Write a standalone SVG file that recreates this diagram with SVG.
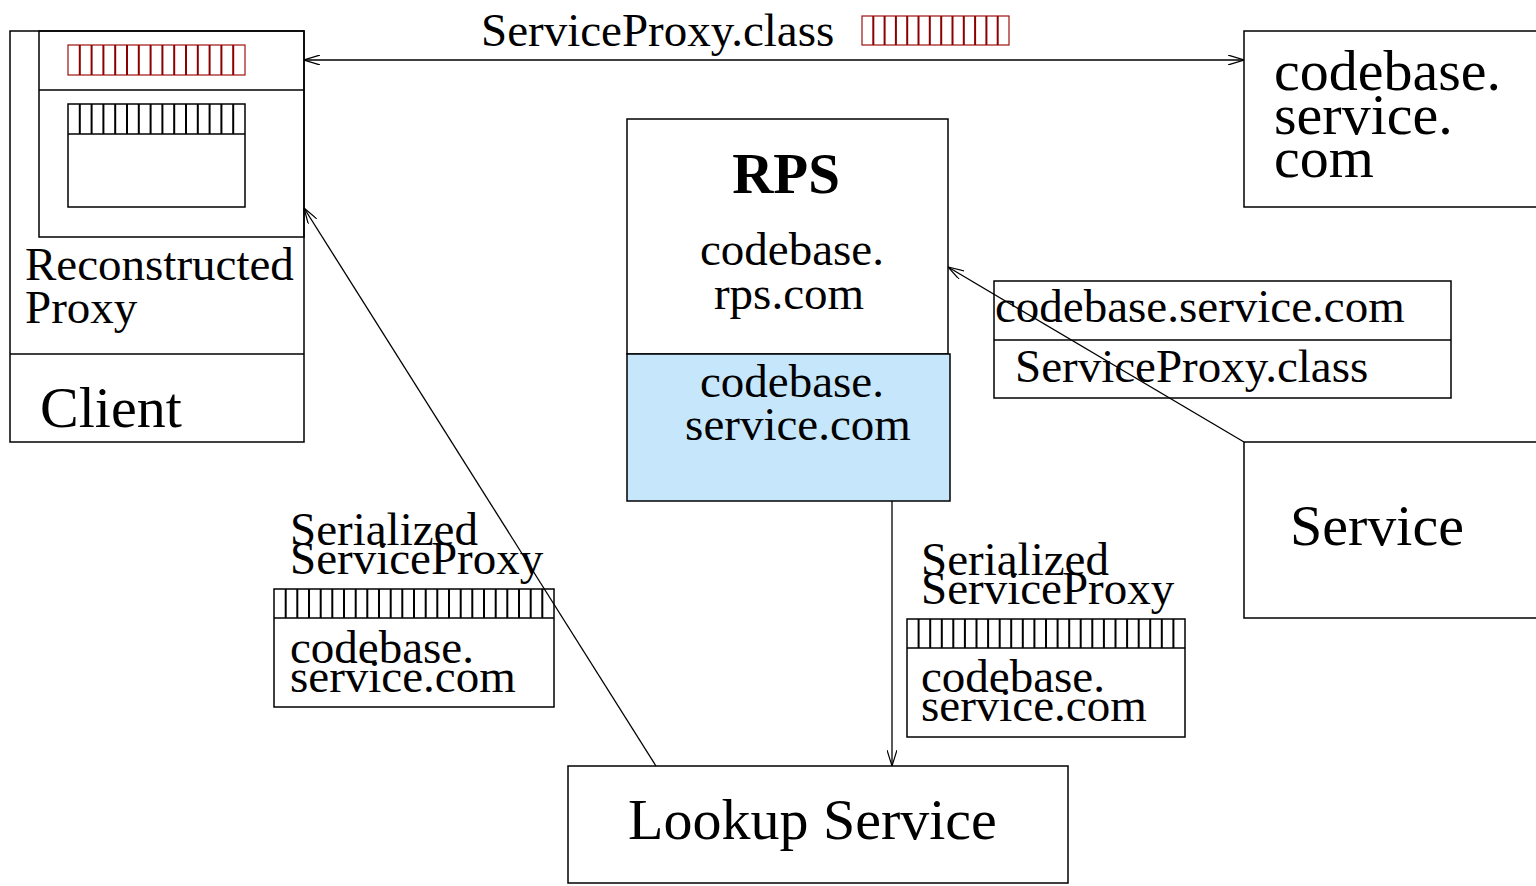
<svg xmlns="http://www.w3.org/2000/svg" width="1536" height="886" viewBox="0 0 1536 886">
  <style>
    .box { fill: #ffffff; stroke: #000000; stroke-width: 1.5; }
    .frame { fill: none; stroke: #000000; stroke-width: 1.5; }
    .blue { fill: #c6e7fb; stroke: #000000; stroke-width: 1.5; }
    .txt { font-family: "Liberation Serif", "Times New Roman", serif; fill: #000000; }
    .m { font-size: 47px; }
    .l { font-size: 58px; }
    .bold { font-weight: bold; font-size: 57px; }
    .hatch-k { fill: none; stroke: #000000; stroke-width: 2; }
    .hatch-r { fill: none; stroke: #8b0000; stroke-width: 2; }
    .bar-k { fill: #ffffff; stroke: #000000; stroke-width: 1.5; }
    .bar-r { fill: #ffffff; stroke: #a01010; stroke-width: 1.2; }
    .conn { fill: none; stroke: #000000; stroke-width: 1.3; }
  </style>
  <defs>
    <marker id="open" viewBox="0 0 16 10" refX="16" refY="5" markerWidth="16" markerHeight="10" markerUnits="userSpaceOnUse" orient="auto-start-reverse">
      <path d="M0,0 L16,5 L0,10" fill="none" stroke="#000000" stroke-width="1.2"/>
    </marker>
  </defs>

  <rect width="1536" height="886" fill="#ffffff"/>

  <!-- Client with reconstructed proxy -->
  <g id="client">
    <rect class="box" x="10" y="31" width="294" height="411"/>
    <line class="frame" x1="10" y1="354" x2="304" y2="354"/>
    <text class="txt l" x="40" y="427">Client</text>
  </g>
  <g id="reconstructed-proxy">
    <rect class="frame" x="39" y="31" width="265" height="206"/>
    <line class="frame" x1="39" y1="90" x2="304" y2="90"/>
    <rect class="bar-r" x="68" y="45" width="177" height="30"/>
    <path class="hatch-r" d="M79.8,45V75M91.6,45V75M103.4,45V75M115.2,45V75M127,45V75M138.8,45V75M150.6,45V75M162.4,45V75M174.2,45V75M186,45V75M197.8,45V75M209.6,45V75M221.4,45V75M233.2,45V75"/>
    <rect class="box" x="68" y="104" width="177" height="103"/>
    <line class="frame" x1="68" y1="134" x2="245" y2="134"/>
    <path class="hatch-k" d="M79.8,104V134M91.6,104V134M103.4,104V134M115.2,104V134M127,104V134M138.8,104V134M150.6,104V134M162.4,104V134M174.2,104V134M186,104V134M197.8,104V134M209.6,104V134M221.4,104V134M233.2,104V134"/>
    <text class="txt m" x="25" y="280">Reconstructed</text>
    <text class="txt m" x="25" y="323">Proxy</text>
  </g>

  <!-- Class transfer label -->
  <g id="class-label">
    <text class="txt m" x="481" y="46">ServiceProxy.class</text>
    <rect class="bar-r" x="862" y="16" width="147" height="29"/>
    <path class="hatch-r" d="M873.3,16V45M884.6,16V45M895.9,16V45M907.2,16V45M918.5,16V45M929.8,16V45M941.2,16V45M952.5,16V45M963.8,16V45M975.1,16V45M986.4,16V45M997.7,16V45"/>
  </g>

  <!-- Codebase server for the service -->
  <g id="codebase-service-host">
    <rect class="box" x="1244" y="31" width="300" height="176"/>
    <text class="txt l" x="1274" y="90">codebase.</text>
    <text class="txt l" x="1274" y="134">service.</text>
    <text class="txt l" x="1274" y="177">com</text>
  </g>

  <!-- RPS -->
  <g id="rps">
    <rect class="box" x="627" y="119" width="321" height="235"/>
    <text class="txt bold" x="786" y="193" text-anchor="middle">RPS</text>
    <text class="txt m" x="792" y="265" text-anchor="middle">codebase.</text>
    <text class="txt m" x="789" y="309" text-anchor="middle">rps.com</text>
  </g>
  <g id="rps-cache">
    <rect class="blue" x="627" y="354" width="323" height="147"/>
    <text class="txt m" x="792" y="397" text-anchor="middle">codebase.</text>
    <text class="txt m" x="798" y="440" text-anchor="middle">service.com</text>
  </g>

  <!-- Service annotation -->
  <g id="service-info">
    <rect class="box" x="994" y="281" width="457" height="117"/>
    <line class="frame" x1="994" y1="340" x2="1451" y2="340"/>
    <text class="txt m" x="995" y="322">codebase.service.com</text>
    <text class="txt m" x="1015" y="382">ServiceProxy.class</text>
  </g>

  <!-- Service -->
  <g id="service">
    <rect class="box" x="1244" y="442" width="300" height="176"/>
    <text class="txt l" x="1290" y="545">Service</text>
  </g>

  <!-- Serialized proxy passed to the client -->
  <g id="serialized-proxy-client">
    <text class="txt m" x="290" y="545">Serialized</text>
    <text class="txt m" x="290" y="574">ServiceProxy</text>
    <rect class="box" x="274" y="589" width="280" height="118"/>
    <line class="frame" x1="274" y1="618" x2="554" y2="618"/>
    <path class="hatch-k" d="M285.7,589V618M297.3,589V618M309,589V618M320.7,589V618M332.3,589V618M344,589V618M355.7,589V618M367.3,589V618M379,589V618M390.7,589V618M402.3,589V618M414,589V618M425.7,589V618M437.3,589V618M449,589V618M460.7,589V618M472.3,589V618M484,589V618M495.7,589V618M507.3,589V618M519,589V618M530.7,589V618M542.3,589V618"/>
    <text class="txt m" x="290" y="663">codebase.</text>
    <text class="txt m" x="290" y="692">service.com</text>
  </g>

  <!-- Serialized proxy registered with the lookup service -->
  <g id="serialized-proxy-lookup">
    <text class="txt m" x="921" y="575">Serialized</text>
    <text class="txt m" x="921" y="604">ServiceProxy</text>
    <rect class="box" x="907" y="619" width="278" height="118"/>
    <line class="frame" x1="907" y1="648" x2="1185" y2="648"/>
    <path class="hatch-k" d="M918.6,619V648M930.2,619V648M941.8,619V648M953.3,619V648M964.9,619V648M976.5,619V648M988.1,619V648M999.7,619V648M1011.2,619V648M1022.8,619V648M1034.4,619V648M1046,619V648M1057.6,619V648M1069.2,619V648M1080.7,619V648M1092.3,619V648M1103.9,619V648M1115.5,619V648M1127.1,619V648M1138.7,619V648M1150.2,619V648M1161.8,619V648M1173.4,619V648"/>
    <text class="txt m" x="921" y="692">codebase.</text>
    <text class="txt m" x="921" y="721">service.com</text>
  </g>

  <!-- Lookup Service -->
  <g id="lookup-service">
    <rect class="box" x="568" y="766" width="500" height="117"/>
    <text class="txt l" x="628" y="839">Lookup Service</text>
  </g>

  <!-- Connectors -->
  <g id="connectors">
    <line class="conn" x1="304" y1="60" x2="1244" y2="60" marker-start="url(#open)" marker-end="url(#open)"/>
    <line class="conn" x1="1244" y1="442" x2="948" y2="267" marker-end="url(#open)"/>
    <line class="conn" x1="892" y1="501" x2="892" y2="766" marker-end="url(#open)"/>
    <line class="conn" x1="656" y1="766" x2="304" y2="208" marker-end="url(#open)"/>
  </g>
</svg>
